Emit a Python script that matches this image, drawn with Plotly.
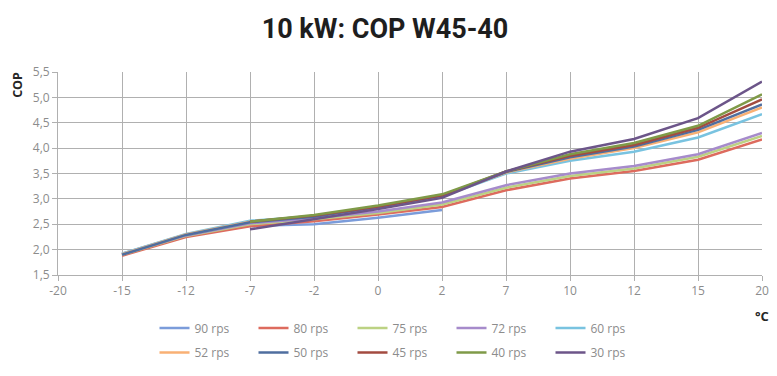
import plotly.graph_objects as go

categories = ["-20", "-15", "-12", "-7", "-2", "0", "2", "7", "10", "12", "15", "20"]

rps_90 = [None, 1.92, 2.30, 2.47, 2.50, 2.63, 2.78, None, None, None, None, None]
rps_80 = [None, 1.88, 2.25, 2.46, 2.56, 2.69, 2.84, 3.17, 3.40, 3.55, 3.77, 4.17]
rps_75 = [None, 1.90, 2.27, 2.50, 2.60, 2.72, 2.89, 3.22, 3.45, 3.60, 3.83, 4.24]
rps_72 = [None, 1.91, 2.28, 2.52, 2.62, 2.75, 2.93, 3.27, 3.50, 3.65, 3.88, 4.30]
rps_60 = [None, 1.92, 2.31, 2.57, 2.66, 2.83, 3.05, 3.50, 3.75, 3.93, 4.21, 4.67]
rps_52 = [None, 1.91, 2.30, 2.55, 2.66, 2.84, 3.06, 3.52, 3.79, 4.00, 4.31, 4.80]
rps_50 = [None, 1.90, 2.29, 2.54, 2.65, 2.84, 3.06, 3.53, 3.82, 4.03, 4.36, 4.86]
rps_45 = [None, None, None, 2.55, 2.67, 2.85, 3.07, 3.54, 3.85, 4.06, 4.40, 4.96]
rps_40 = [None, None, None, 2.55, 2.68, 2.87, 3.09, 3.54, 3.88, 4.10, 4.44, 5.06]
rps_30 = [None, None, None, 2.40, 2.60, 2.80, 3.02, 3.54, 3.93, 4.18, 4.59, 5.31]

series_names = ["90 rps", "80 rps", "75 rps", "72 rps", "60 rps",
                "52 rps", "50 rps", "45 rps", "40 rps", "30 rps"]
series_values = [rps_90, rps_80, rps_75, rps_72, rps_60,
                 rps_52, rps_50, rps_45, rps_40, rps_30]
colors = ["#7B9CDA", "#DD6B5E", "#BCD283", "#A68BCB", "#79C3E0",
          "#F9B074", "#4F6E9F", "#A34B40", "#7F9A48", "#6C5589"]

fig = go.Figure()
for i, (name, vals, col) in enumerate(zip(series_names, series_values, colors)):
    fig.add_trace(go.Scatter(
        x=categories, y=vals, name=name, mode="lines",
        line=dict(color=col, width=2.5),
        legend="legend" if i < 5 else "legend2",
        connectgaps=False,
    ))

tick_font = dict(family="Open Sans, Liberation Sans, sans-serif", size=12, color="#8C8C8C")
grid_col = "#B0B0B0"

# figure is drawn 8px in from the page corner (default body margin)
W, H = 769, 368

legend_common = dict(orientation="h", xref="container", yref="container",
                     xanchor="left", yanchor="middle",
                     font=tick_font, entrywidth=54, entrywidthmode="pixels",
                     itemwidth=30, bgcolor="rgba(0,0,0,0)", tracegroupgap=0)

fig.update_layout(
    width=W, height=H,
    margin=dict(l=50, r=15, t=64, b=101, autoexpand=False),
    paper_bgcolor="white", plot_bgcolor="white",
    separators=",.",
    title=dict(text="<b>10 kW: COP W45-40</b>", x=377 / W, xanchor="center",
               xref="container", yref="container",
               y=1 - 21 / H, yanchor="middle",
               font=dict(family="Roboto, sans-serif", size=27, color="#1E1E1E")),
    xaxis=dict(type="category", categoryorder="array", categoryarray=categories,
               range=[0, 11], showgrid=True, gridcolor=grid_col, gridwidth=1,
               showline=True, linecolor=grid_col, linewidth=1,
               ticks="outside", ticklen=5, tickcolor=grid_col, automargin=False,
               tickfont=tick_font, zeroline=False),
    yaxis=dict(range=[1.5, 5.5], dtick=0.5, tick0=1.5, tickformat=".1f",
               showgrid=True, gridcolor=grid_col, gridwidth=1,
               showline=True, linecolor=grid_col, linewidth=1,
               ticks="outside", ticklen=5, tickcolor=grid_col, automargin=False,
               tickfont=tick_font, zeroline=False),
    showlegend=True,
    legend=dict(x=146.5 / W, y=1 - 320 / H, **legend_common),
    legend2=dict(x=146.5 / W, y=1 - 344.5 / H, **legend_common),
    annotations=[
        dict(text="<b>COP</b>", xref="paper", yref="paper", x=-0.057, y=1.01,
             xanchor="center", yanchor="top", textangle=-90, showarrow=False,
             font=dict(family="Open Sans, sans-serif", size=12.5, color="#262626")),
        dict(text="<b>°C</b>", xref="paper", yref="paper", x=1.0, y=-0.202,
             xanchor="center", yanchor="middle", showarrow=False,
             font=dict(family="Open Sans, sans-serif", size=13, color="#262626")),
    ],
)

fig.write_html("out.html")
